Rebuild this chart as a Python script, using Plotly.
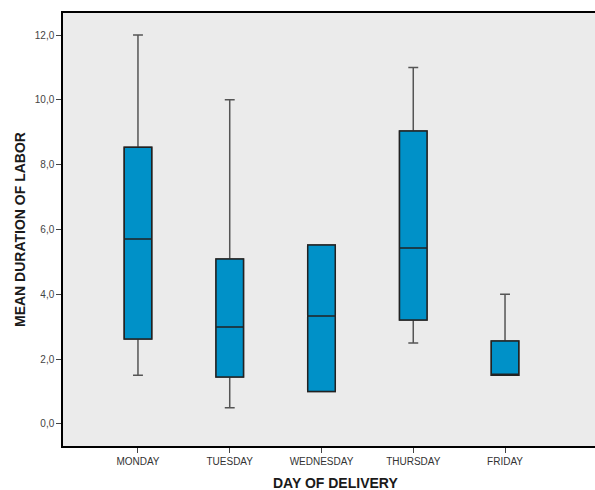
import plotly.graph_objects as go

days = ["MONDAY", "TUESDAY", "WEDNESDAY", "THURSDAY", "FRIDAY"]
lower = [1.5, 0.5, 1.0, 2.5, 1.5]
q1 = [2.62, 1.45, 1.0, 3.21, 1.5]
median = [5.71, 2.99, 3.33, 5.43, 1.5]
q3 = [8.54, 5.09, 5.52, 9.04, 2.56]
upper = [12.0, 10.0, 5.52, 11.0, 4.0]
y_ticks = [0, 2, 4, 6, 8, 10, 12]

xs = list(range(len(days)))
fig = go.Figure()
# whiskers (gray)
fig.add_trace(go.Box(
    x=xs, q1=q1, median=median, q3=q3,
    lowerfence=lower, upperfence=upper,
    fillcolor="#0091C8",
    line=dict(color="#555555", width=1.5),
    width=0.3, whiskerwidth=0.36,
    boxpoints=False, showlegend=False, hoverinfo="skip",
))
# boxes (dark outline) on top
fig.add_trace(go.Box(
    x=xs, q1=q1, median=median, q3=q3,
    lowerfence=q1, upperfence=q3,
    fillcolor="#0091C8",
    line=dict(color="#222222", width=1.5),
    width=0.3, whiskerwidth=0,
    boxpoints=False, showlegend=False,
))

W = 600
PW = W - 63
fig.update_layout(
    width=W, height=490,
    boxmode="overlay",
    margin=dict(l=63, r=0, t=13, b=44, autoexpand=False),
    paper_bgcolor="white",
    plot_bgcolor="#EBEBEB",
    separators=",.",
    font=dict(family="Liberation Sans, Arial, sans-serif", color="#444444", size=10),
    xaxis=dict(
        tickmode="array", tickvals=xs, ticktext=days,
        range=[-0.817, 5.035], automargin=False,
        showgrid=False, zeroline=False,
        showline=True, linecolor="black", linewidth=1.5, mirror=True,
        ticks="outside", ticklen=5, tickcolor="#444444",
        tickfont=dict(size=10, color="#333333"),
    ),
    yaxis=dict(
        range=[-0.68, 12.68], automargin=False,
        tickmode="array", tickvals=y_ticks, tickformat=".1f",
        showgrid=False, zeroline=False,
        showline=True, linecolor="black", linewidth=1.5, mirror=False,
        ticks="outside", ticklen=5, tickcolor="#444444",
        tickfont=dict(size=10, color="#444444"),
    ),
    annotations=[
        dict(text="<b>DAY OF DELIVERY</b>", xref="paper", yref="paper",
             x=(335 - 63) / PW, y=-(483 - 446) / 433, xanchor="center", yanchor="middle",
             showarrow=False, font=dict(size=14, color="#1a1a1a")),
        dict(text="<b>MEAN DURATION OF LABOR</b>", xref="paper", yref="paper",
             x=-(63 - 20) / PW, y=(446 - 230) / 433, xanchor="center", yanchor="middle",
             textangle=-90, showarrow=False, font=dict(size=14, color="#1a1a1a")),
    ],
)

fig.write_html(
    "out.html",
    config={"displayModeBar": False},
    post_script="document.body.style.margin='0';document.body.style.overflow='hidden';",
)
